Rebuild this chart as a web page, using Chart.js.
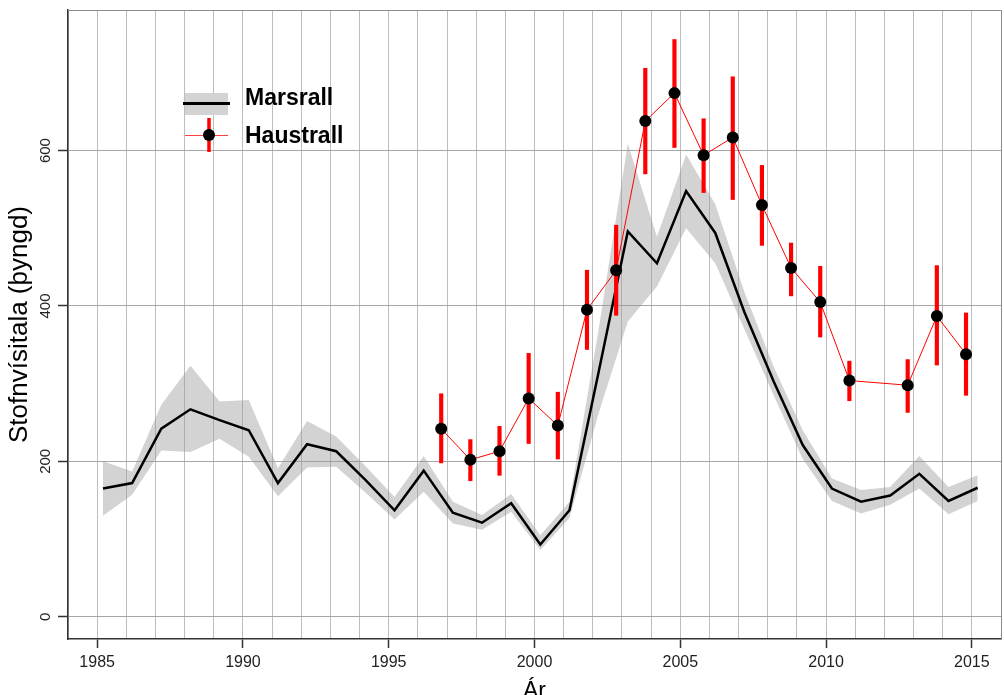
<!DOCTYPE html>
<html>
<head>
<meta charset="utf-8">
<script src="https://cdn.jsdelivr.net/npm/chart.js@4.4.1/dist/chart.umd.min.js"></script>
<style>
  html, body { margin: 0; padding: 0; background: #fff; overflow: hidden; }
  /* a few px wider than the window: Chart.js keeps ~5px spare on the right */
  #wrap { width: 1007px; height: 695px; position: relative; }
</style>
</head>
<body>
<div id="wrap"><canvas id="stofn"></canvas></div>
<script>
// Marsrall (March survey), index with band
const marsYears = [1985, 1986, 1987, 1988, 1989, 1990, 1991, 1992, 1993, 1994,
                   1995, 1996, 1997, 1998, 1999, 2000, 2001, 2002, 2003, 2004,
                   2005, 2006, 2007, 2008, 2009, 2010, 2011, 2012, 2013, 2014, 2015];
const marsVals  = [165, 172, 242, 267, 253, 240, 172, 222, 213, 176,
                   137, 188, 134, 121, 146, 93, 137, 315, 496, 455,
                   548, 494, 392, 303, 221, 165, 148, 156, 184, 149, 166];
const marsLow   = [130, 157, 214, 212, 229, 206, 155, 192, 193, 160,
                   125, 161, 120, 112, 135, 86, 127, 262, 380, 425,
                   500, 455, 370, 285, 203, 149, 133, 144, 165, 132, 149];
const marsHigh  = [200, 187, 273, 323, 277, 279, 191, 252, 232, 194,
                   154, 207, 148, 131, 158, 105, 148, 370, 609, 489,
                   595, 531, 418, 322, 240, 178, 163, 167, 207, 167, 182];

// Haustrall (autumn survey), no survey in 2011
const haustYears = [1996, 1997, 1998, 1999, 2000, 2001, 2002, 2003, 2004,
                    2005, 2006, 2007, 2008, 2009, 2010, 2012, 2013, 2014];
const haustVals  = [242, 202, 213, 281, 246, 395, 446, 638, 674,
                    594, 617, 530, 449, 405, 304, 298, 387, 338];
const haustLow   = [198, 175, 182, 223, 203, 344, 388, 570, 604,
                    546, 537, 478, 413, 360, 278, 263, 324, 285];
const haustHigh  = [287, 228, 245, 339, 289, 446, 504, 706, 743,
                    641, 695, 581, 481, 451, 329, 331, 452, 391];

const xTicks = [1985, 1990, 1995, 2000, 2005, 2010, 2015];
const yTicks = [0, 200, 400, 600];

const MARS_OFFSET = 0.2;   // March
const HAUST_OFFSET = 0.8;  // October

const FONT = "'Liberation Sans', Arial, Helvetica, sans-serif";

const pts = (years, vals, off) => years.map((y, i) => ({ x: y + off, y: vals[i] }));

// keep the plot box fixed: no extra room for overhanging tick labels
const noPad = s => {
  s._calculatePadding = function () {
    this.paddingLeft = this.paddingRight = this.paddingTop = this.paddingBottom = 0;
  };
};
const zeroPad = s => { s.paddingLeft = s.paddingRight = s.paddingTop = s.paddingBottom = 0; };

const frame = {
  id: 'frame',
  afterDraw(chart) {
    const { ctx, chartArea: a } = chart;
    ctx.save();
    ctx.strokeStyle = '#8c8c8c';
    ctx.lineWidth = 1;
    ctx.beginPath();
    ctx.moveTo(a.left, a.top + 0.5);
    ctx.lineTo(a.right + 0.5, a.top + 0.5);
    ctx.lineTo(a.right + 0.5, a.bottom);
    ctx.stroke();
    ctx.restore();
  }
};

const legendBox = {
  id: 'legendBox',
  afterDraw(chart) {
    const ctx = chart.ctx;
    ctx.save();
    // Marsrall
    ctx.fillStyle = '#d3d3d3';
    ctx.fillRect(185, 93, 43, 22);
    ctx.strokeStyle = '#000';
    ctx.lineWidth = 3;
    ctx.beginPath();
    ctx.moveTo(183, 103.5);
    ctx.lineTo(230, 103.5);
    ctx.stroke();
    // Haustrall
    ctx.strokeStyle = '#ff4040';
    ctx.lineWidth = 1;
    ctx.beginPath();
    ctx.moveTo(185, 135.5);
    ctx.lineTo(228, 135.5);
    ctx.stroke();
    ctx.strokeStyle = '#ff0000';
    ctx.lineWidth = 3.5;
    ctx.beginPath();
    ctx.moveTo(209, 118);
    ctx.lineTo(209, 152);
    ctx.stroke();
    ctx.fillStyle = '#000';
    ctx.beginPath();
    ctx.arc(209, 135, 6, 0, Math.PI * 2);
    ctx.fill();
    ctx.font = 'bold 23px ' + FONT;
    ctx.textBaseline = 'alphabetic';
    ctx.textAlign = 'left';
    ctx.fillText('Marsrall', 245, 105);
    ctx.fillText('Haustrall', 245, 143);
    ctx.restore();
  }
};

new Chart(document.getElementById('stofn'), {
  type: 'line',
  data: {
    datasets: [
      {
        label: 'band-low',
        data: pts(marsYears, marsLow, MARS_OFFSET),
        borderWidth: 0,
        pointRadius: 0,
        fill: false,
        order: 10
      },
      {
        label: 'band-high',
        data: pts(marsYears, marsHigh, MARS_OFFSET),
        borderWidth: 0,
        pointRadius: 0,
        backgroundColor: 'rgba(150,150,150,0.42)',
        fill: '-1',
        order: 9
      },
      {
        label: 'Marsrall',
        data: pts(marsYears, marsVals, MARS_OFFSET),
        borderColor: '#000',
        borderWidth: 2.5,
        pointRadius: 0,
        fill: false,
        order: 3
      },
      {
        type: 'bar',
        label: 'Haustrall CI',
        data: haustYears.map((y, i) => ({ x: y + HAUST_OFFSET, y: [haustLow[i], haustHigh[i]] })),
        backgroundColor: '#ff0000',
        barThickness: 3.5,
        borderWidth: 0,
        order: 2
      },
      {
        label: 'Haustrall',
        data: pts(haustYears, haustVals, HAUST_OFFSET),
        borderColor: '#ff0000',
        borderWidth: 1,
        pointRadius: 6,
        pointBackgroundColor: '#000',
        pointBorderWidth: 0,
        fill: false,
        order: 1
      }
    ]
  },
  options: {
    responsive: true,
    maintainAspectRatio: false,
    animation: false,
    layout: { padding: { left: 0, top: 10, right: 0, bottom: 0 } },
    elements: { line: { tension: 0 } },
    plugins: {
      legend: { display: false },
      tooltip: { enabled: false }
    },
    scales: {
      x: {
        type: 'linear',
        position: 'bottom',
        min: 1984,
        max: 2016,
        offset: false,
        beforeFit: noPad,
        afterBuildTicks: s => { s.ticks = xTicks.map(v => ({ value: v })); },
        afterFit: s => { s.height = 56; zeroPad(s); },
        ticks: {
          autoSkip: false,
          maxRotation: 0,
          padding: 5,
          color: '#222',
          font: { family: FONT, size: 16 },
          callback: v => String(v)
        },
        grid: {
          offset: false,
          drawOnChartArea: false,
          drawTicks: true,
          tickLength: 9,
          tickColor: '#333',
          tickWidth: 1.5
        },
        border: { display: true, color: '#333', width: 1.5 },
        title: {
          display: true,
          text: 'Ár',
          color: '#000',
          font: { family: FONT, size: 23 },
          padding: { top: 0, bottom: -10 }
        }
      },
      xg: {
        type: 'linear',
        position: 'bottom',
        min: 1984,
        max: 2016,
        offset: false,
        beforeFit: noPad,
        afterBuildTicks: s => {
          const t = [];
          for (let v = s.min; v <= s.max; v++) t.push({ value: v });
          s.ticks = t;
        },
        afterFit: s => { s.height = 0; zeroPad(s); },
        ticks: { display: false },
        grid: { offset: false, color: '#bdbdbd', lineWidth: 1, drawTicks: false },
        border: { display: false }
      },
      y: {
        type: 'linear',
        position: 'left',
        min: -28.7,
        max: 781,
        beforeFit: noPad,
        afterBuildTicks: s => { s.ticks = yTicks.map(v => ({ value: v })); },
        afterFit: s => { s.width = 68; zeroPad(s); },
        ticks: {
          minRotation: 90,
          maxRotation: 90,
          crossAlign: 'center',
          padding: 0,
          color: '#222',
          font: { family: FONT, size: 15 },
          callback: v => String(v)
        },
        grid: {
          color: '#a6a6a6',
          lineWidth: 1,
          tickLength: 10,
          tickColor: '#333',
          tickWidth: 1.5
        },
        border: { display: true, color: '#333', width: 1.5 },
        title: {
          display: true,
          text: 'Stofnvísitala (þyngd)',
          color: '#000',
          font: { family: FONT, size: 26 },
          padding: { top: 4, bottom: 0 }
        }
      }
    }
  },
  plugins: [frame, legendBox]
});
</script>
</body>
</html>
